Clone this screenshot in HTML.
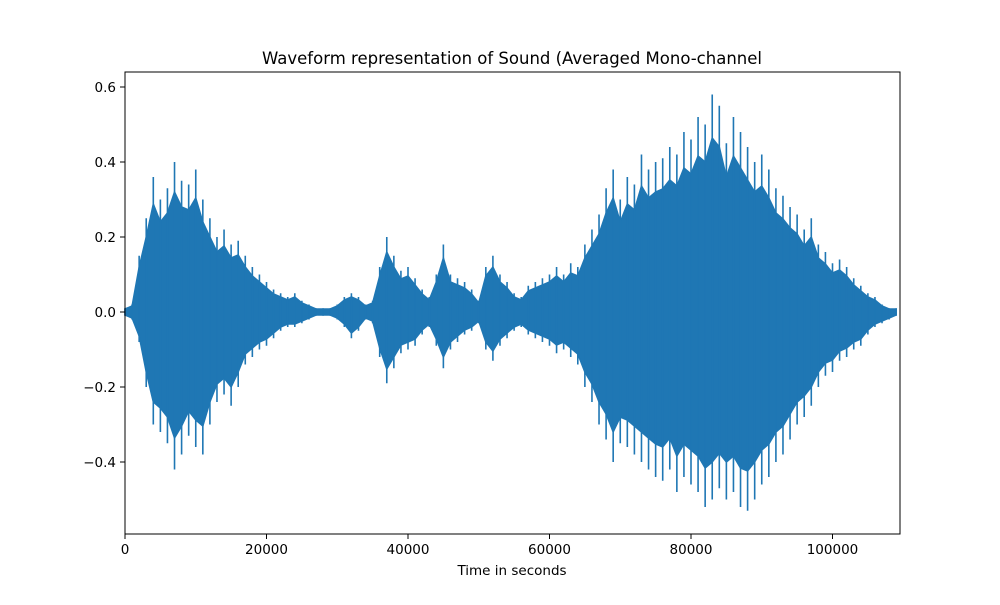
<!DOCTYPE html>
<html><head><meta charset="utf-8"><style>
body{margin:0;background:#fff;font-family:"Liberation Sans","DejaVu Sans",sans-serif}
svg text{font-family:"DejaVu Sans","Liberation Sans",sans-serif}
</style></head><body>
<svg id="chart" width="1000" height="600" viewBox="0 0 1000 600" xmlns="http://www.w3.org/2000/svg">
<rect width="1000" height="600" fill="#fff"/>
<text x="512" y="64" font-size="16.5" text-anchor="middle">Waveform representation of Sound (Averaged Mono-channel</text>
<text x="512" y="575" font-size="13.5" text-anchor="middle">Time in seconds</text>
<g id="plot"></g>
<rect x="125" y="72" width="775" height="462" fill="none" stroke="#000" stroke-width="1"/>
<g id="axes"></g>
</svg>
<script>
const binSize = 1000;
const upper = [0.01,0.02,0.15,0.25,0.36,0.3,0.33,0.40,0.35,0.34,0.38,0.30,0.25,0.20,0.22,0.18,0.19,0.15,0.12,0.10,0.08,0.06,0.05,0.04,0.05,0.03,0.02,0.01,0.01,0.01,0.02,0.04,0.05,0.04,0.02,0.03,0.12,0.20,0.15,0.11,0.12,0.09,0.06,0.04,0.10,0.18,0.10,0.09,0.08,0.06,0.03,0.12,0.15,0.10,0.08,0.05,0.04,0.07,0.08,0.09,0.10,0.12,0.10,0.13,0.12,0.18,0.22,0.26,0.33,0.38,0.30,0.36,0.34,0.42,0.38,0.40,0.41,0.44,0.42,0.48,0.46,0.52,0.50,0.58,0.55,0.45,0.52,0.48,0.44,0.40,0.42,0.38,0.33,0.31,0.28,0.26,0.22,0.25,0.18,0.16,0.13,0.14,0.12,0.09,0.07,0.05,0.04,0.02,0.01,0.01];
const lower = [-0.01,-0.02,-0.08,-0.2,-0.3,-0.32,-0.35,-0.42,-0.38,-0.33,-0.36,-0.38,-0.3,-0.24,-0.22,-0.25,-0.20,-0.14,-0.12,-0.10,-0.09,-0.07,-0.05,-0.04,-0.04,-0.03,-0.02,-0.01,-0.01,-0.01,-0.02,-0.04,-0.07,-0.05,-0.02,-0.03,-0.12,-0.19,-0.15,-0.11,-0.10,-0.09,-0.06,-0.04,-0.09,-0.15,-0.10,-0.08,-0.06,-0.05,-0.03,-0.10,-0.13,-0.09,-0.07,-0.05,-0.04,-0.06,-0.07,-0.08,-0.09,-0.11,-0.10,-0.12,-0.14,-0.20,-0.24,-0.30,-0.34,-0.40,-0.35,-0.36,-0.38,-0.40,-0.42,-0.44,-0.45,-0.42,-0.48,-0.44,-0.46,-0.48,-0.52,-0.50,-0.47,-0.50,-0.48,-0.52,-0.53,-0.50,-0.46,-0.44,-0.40,-0.38,-0.34,-0.30,-0.28,-0.25,-0.20,-0.17,-0.16,-0.13,-0.12,-0.10,-0.09,-0.06,-0.04,-0.03,-0.02,-0.01];
const xTicks = [0,20000,40000,60000,80000,100000];
const yTicks = [-0.4,-0.2,0.0,0.2,0.4,0.6];

const NS="http://www.w3.org/2000/svg";
const X0=125,X1=900,Y0=534,Y1=72;
const xMax=109540, yMin=-0.592, yMax=0.64;
const BODY=0.8;
const xs=v=>X0+(v/xMax)*(X1-X0);
const ys=v=>Y0-(v-yMin)/(yMax-yMin)*(Y0-Y1);
const plot=document.getElementById('plot'), axes=document.getElementById('axes');

let pts=[];
for(let i=0;i<upper.length;i++) pts.push(xs(i*binSize)+','+ys(upper[i]*BODY));
for(let i=lower.length-1;i>=0;i--) pts.push(xs(i*binSize)+','+ys(lower[i]*BODY));
const poly=document.createElementNS(NS,'polygon');
poly.setAttribute('points',pts.join(' '));
poly.setAttribute('fill','#1f77b4');poly.setAttribute('stroke','#1f77b4');poly.setAttribute('stroke-width','1.5');


plot.appendChild(poly);
for(let i=0;i<upper.length;i++){
  const l=document.createElementNS(NS,'line');
  const x=xs(i*binSize);
  l.setAttribute('x1',x);l.setAttribute('x2',x);
  l.setAttribute('y1',ys(upper[i]));l.setAttribute('y2',ys(lower[i]));
  l.setAttribute('stroke','#1f77b4');l.setAttribute('stroke-width','1.6');
  
  
  plot.appendChild(l);
}
xTicks.forEach(t=>{
  const x=xs(t);
  const l=document.createElementNS(NS,'line');
  l.setAttribute('x1',x);l.setAttribute('x2',x);l.setAttribute('y1',Y0);l.setAttribute('y2',Y0+5);l.setAttribute('stroke','#000');
  
  
  axes.appendChild(l);
  const tx=document.createElementNS(NS,'text');
  tx.setAttribute('x',x);tx.setAttribute('y',Y0+20);tx.setAttribute('font-size','13.5');tx.setAttribute('text-anchor','middle');
  tx.textContent=String(t);
  
  
  axes.appendChild(tx);
});
yTicks.forEach(t=>{
  const y=ys(t);
  const l=document.createElementNS(NS,'line');
  l.setAttribute('x1',X0-5);l.setAttribute('x2',X0);l.setAttribute('y1',y);l.setAttribute('y2',y);l.setAttribute('stroke','#000');
  
  
  axes.appendChild(l);
  const tx=document.createElementNS(NS,'text');
  tx.setAttribute('x',X0-9);tx.setAttribute('y',y+5);tx.setAttribute('font-size','13.5');tx.setAttribute('text-anchor','end');
  tx.textContent=(t<0?'\u2212':'')+Math.abs(t).toFixed(1);
  
  
  axes.appendChild(tx);
});
</script>
</body></html>
